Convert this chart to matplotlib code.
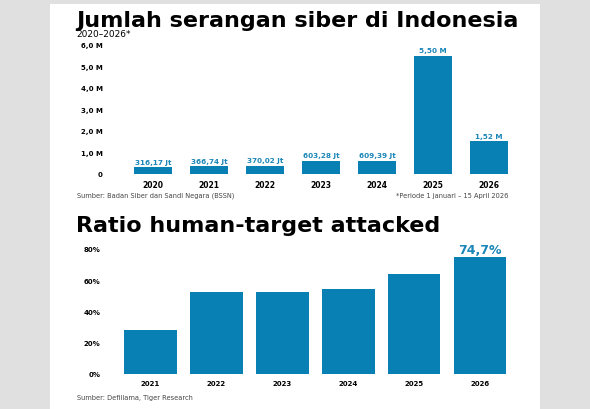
import matplotlib.pyplot as plt
from matplotlib.patches import Rectangle

# data - top chart (dalam miliar / "M")
years_top = ["2020", "2021", "2022", "2023", "2024", "2025", "2026"]
attacks = [0.31617, 0.36674, 0.37002, 0.60328, 0.60939, 5.50, 1.52]
attack_labels = ["316,17 Jt", "366,74 Jt", "370,02 Jt", "603,28 Jt", "609,39 Jt", "5,50 M", "1,52 M"]
yticks_top = [0, 1, 2, 3, 4, 5, 6]
ytick_labels_top = ["0", "1,0 M", "2,0 M", "3,0 M", "4,0 M", "5,0 M", "6,0 M"]

# data - bottom chart
years_bot = ["2021", "2022", "2023", "2024", "2025", "2026"]
ratio = [28.2, 52.5, 52.6, 54.4, 64.0, 74.7]
yticks_bot = [0, 20, 40, 60, 80]
ytick_labels_bot = ["0%", "20%", "40%", "60%", "80%"]

W, H = 590, 410
BLUE = "#0880b4"
LBLUE = "#1b86b8"
TFONT = "DejaVu Sans"


def box(x0, y0, x1, y1):
    # pixel box (from top-left) -> figure fraction
    return [x0 / W, 1 - y1 / H, (x1 - x0) / W, (y1 - y0) / H]


def ftext(x, y, s, **kw):
    fig.text(x / W, 1 - y / H, s, **kw)


fig = plt.figure(figsize=(W / 100, H / 100), dpi=100, facecolor="#e0e0e0")
fig.patches.append(Rectangle((50 / W, 0), 490 / W, 1 - 5 / H, transform=fig.transFigure,
                             facecolor="white", edgecolor="none", zorder=-5))

# ---- top chart
ax1 = fig.add_axes(box(125, 40, 517, 175))
ax1.bar(range(len(years_top)), attacks, width=0.68, color=BLUE)
ax1.set_xlim(-0.5, 6.5)
ax1.set_ylim(0, 135 / 21.5)
ax1.set_xticks(range(len(years_top)))
ax1.set_xticklabels(years_top, fontsize=5.5, fontweight="bold")
ax1.set_yticks(yticks_top)
ax1.set_yticklabels(ytick_labels_top, fontsize=5, fontweight="bold")
for i, v in enumerate(attacks):
    ax1.text(i, v + 0.12, attack_labels[i], ha="center", va="bottom",
             fontsize=5.2, fontweight="bold", color=LBLUE)

# ---- bottom chart
ax2 = fig.add_axes(box(117.5, 250, 513, 375))
ax2.bar(range(len(years_bot)), ratio, width=0.8, color=BLUE)
ax2.set_xlim(-0.5, 5.5)
ax2.set_ylim(0, 80)
ax2.set_xticks(range(len(years_bot)))
ax2.set_xticklabels(years_bot, fontsize=5, fontweight="bold")
ax2.set_yticks(yticks_bot)
ax2.set_yticklabels(ytick_labels_bot, fontsize=5, fontweight="bold")
ax2.text(5, ratio[-1] + 0.6, "74,7%", ha="center", va="bottom",
         fontsize=9, fontweight="bold", color=LBLUE)

for ax, pad in ((ax1, 22), (ax2, 17)):
    ax.set_facecolor("none")
    for sp in ax.spines.values():
        sp.set_visible(False)
    ax.tick_params(axis="both", length=0)
    ax.tick_params(axis="y", pad=pad * 0.72)
    ax.tick_params(axis="x", pad=4)

# ---- texts
ftext(76, 27, "Jumlah serangan siber di Indonesia", fontsize=16, fontweight="bold",
      family=TFONT, va="baseline")
ftext(76, 37, "2020–2026*", fontsize=6.5, va="baseline")
ftext(77, 198, "Sumber: Badan Siber dan Sandi Negara (BSSN)", fontsize=4.8,
      color="#444444", va="baseline")
ftext(508, 198, "*Periode 1 Januari – 15 April 2026", fontsize=4.8,
      color="#444444", va="baseline", ha="right")
ftext(76, 232, "Ratio human-target attacked", fontsize=16, fontweight="bold",
      family=TFONT, va="baseline")
ftext(77, 400, "Sumber: Defillama, Tiger Research", fontsize=4.8,
      color="#444444", va="baseline")

fig.savefig("out.png", dpi=100, facecolor=fig.get_facecolor())
